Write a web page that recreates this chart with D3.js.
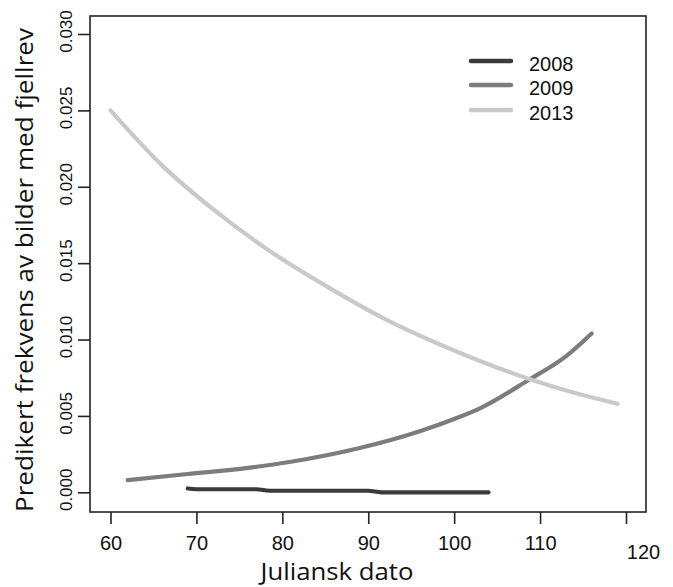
<!DOCTYPE html>
<html>
<head>
<meta charset="utf-8">
<script src="https://cdn.jsdelivr.net/npm/d3@7"></script>
<style>
  body { margin: 0; background: #fff; }
  svg { display: block; }
</style>
</head>
<body>
<div id="chart"></div>
<script>
//data
const years = ["2008", "2009", "2013"];
const colors = ["#3a3a3a", "#7c7c7c", "#c9c9c9"];

const days2008 = [69, 70, 77, 78.5, 90, 91.5, 104];
const vals2008 = [0.00025, 0.0002, 0.0002, 0.0001, 0.0001, 0.0, 0.0];

const days2009 = [62, 69, 76, 81, 89, 96, 100, 103, 108.8, 113, 116];
const vals2009 = [0.0008, 0.0012, 0.0016, 0.002, 0.0029, 0.004, 0.0048, 0.0055, 0.0074, 0.0089, 0.0104];

const days2013 = [60, 66, 72, 78, 86, 91.4, 99.5, 103, 108.8, 114.7, 119];
const vals2013 = [0.025, 0.0214, 0.0185, 0.016, 0.0132, 0.0115, 0.0094, 0.0086, 0.0074, 0.0064, 0.0058];

const xTicks = [60, 70, 80, 90, 100, 110, 120];
const yTicks = [0, 0.005, 0.01, 0.015, 0.02, 0.025, 0.03];

const series = [
  { year: years[0], color: colors[0], pts: days2008.map((d, i) => ({ x: d, y: vals2008[i] })) },
  { year: years[1], color: colors[1], pts: days2009.map((d, i) => ({ x: d, y: vals2009[i] })) },
  { year: years[2], color: colors[2], pts: days2013.map((d, i) => ({ x: d, y: vals2013[i] })) },
];

//size
const width = 673, height = 587;
const box = { left: 90, right: 646, top: 16, bottom: 512 };

//scale
const xScale = d3.scaleLinear().domain([60, 120]).range([110.5, 626]);
const yScale = d3.scaleLinear().domain([0, 0.03]).range([492.3, 34]);

const svg = d3.select("#chart").append("svg")
  .attr("width", width)
  .attr("height", height);

//lines
const line = d3.line()
  .x((d) => xScale(d.x))
  .y((d) => yScale(d.y))
  .curve(d3.curveMonotoneX);

svg.append("g").attr("class", "mark")
  .selectAll("path")
  .data(series)
  .join("path")
  .attr("d", (d) => line(d.pts))
  .attr("fill", "none")
  .attr("stroke", (d) => d.color)
  .attr("stroke-width", 4.2)
  .attr("stroke-linecap", "round")
  .attr("stroke-linejoin", "round");

//box
svg.append("rect")
  .attr("x", box.left)
  .attr("y", box.top)
  .attr("width", box.right - box.left)
  .attr("height", box.bottom - box.top)
  .attr("fill", "none")
  .attr("stroke", "#222")
  .attr("stroke-width", 1.6);

//x-axis
const xAxis = svg.append("g")
  .attr("class", "axis x-axis")
  .attr("transform", `translate(0,${box.bottom})`)
  .call(d3.axisBottom(xScale).tickValues(xTicks).tickSize(12).tickFormat(d3.format("d")));
xAxis.select(".domain").remove();
xAxis.selectAll("line").attr("stroke", "#222").attr("stroke-width", 1.6);
xAxis.selectAll("text")
  .attr("y", 38)
  .attr("dy", 0)
  .attr("fill", "#111")
  .style("font-family", "'Liberation Sans', Arial, sans-serif")
  .style("font-size", "20px");
// the last label sits lower and to the right in the original
xAxis.selectAll("text").filter((d) => d === 120)
  .attr("x", 17)
  .attr("y", 47);

//y-axis
const yAxis = svg.append("g")
  .attr("class", "axis y-axis")
  .attr("transform", `translate(${box.left},0)`)
  .call(d3.axisLeft(yScale).tickValues(yTicks).tickSize(12).tickFormat(d3.format(".3f")));
yAxis.select(".domain").remove();
yAxis.selectAll("line").attr("stroke", "#222").attr("stroke-width", 1.6);
yAxis.selectAll("text")
  .attr("x", null)
  .attr("dy", null)
  .attr("text-anchor", "middle")
  .attr("transform", "translate(-18.5,-3) rotate(-90)")
  .attr("fill", "#111")
  .style("font-family", "'Liberation Sans', Arial, sans-serif")
  .style("font-size", "17px");

//titles
svg.append("text")
  .attr("x", 337)
  .attr("y", 580)
  .attr("text-anchor", "middle")
  .attr("textLength", 153)
  .attr("lengthAdjust", "spacingAndGlyphs")
  .attr("fill", "#111")
  .style("font-family", "'Open Sans', 'Noto Sans', sans-serif")
  .style("font-size", "24px")
  .text("Juliansk dato");

svg.append("text")
  .attr("transform", "translate(33,270) rotate(-90)")
  .attr("text-anchor", "middle")
  .attr("textLength", 484)
  .attr("lengthAdjust", "spacingAndGlyphs")
  .attr("fill", "#111")
  .style("font-family", "'Open Sans', 'Noto Sans', sans-serif")
  .style("font-size", "24px")
  .text("Predikert frekvens av bilder med fjellrev");

//legend
const legend = svg.append("g").attr("class", "legend");
const legendY = [61, 85, 110];
const lg = legend.selectAll("g")
  .data(series)
  .join("g")
  .attr("transform", (d, i) => `translate(0,${legendY[i]})`);
lg.append("line")
  .attr("x1", 471)
  .attr("x2", 511)
  .attr("stroke", (d) => d.color)
  .attr("stroke-width", 4.5)
  .attr("stroke-linecap", "round");
lg.append("text")
  .attr("x", 529)
  .attr("y", 9.5)
  .attr("fill", "#111")
  .style("font-family", "'Liberation Sans', Arial, sans-serif")
  .style("font-size", "20px")
  .text((d) => d.year);
</script>
</body>
</html>
